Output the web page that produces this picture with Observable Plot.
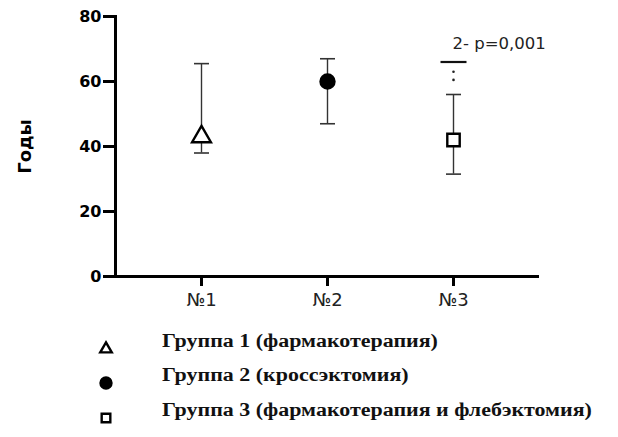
<!DOCTYPE html>
<html>
<head>
<meta charset="utf-8">
<script src="https://cdn.jsdelivr.net/npm/d3@7"></script>
<script src="https://cdn.jsdelivr.net/npm/@observablehq/plot@0.6"></script>
<style>
  html, body { margin: 0; padding: 0; background: #fff; }
  #chart svg { display: block; }
  #legend { position: relative; height: 119px; font-family: "Liberation Serif", "Times New Roman", serif; font-weight: bold; font-size: 18px; color: #111; }
  .row { position: absolute; left: 0; height: 34px; }
  .row svg { position: absolute; left: 95px; }
  .row span { position: absolute; left: 162px; top: 5px; white-space: nowrap; transform: scaleX(1.22); transform-origin: left center; }
</style>
</head>
<body>
<div id="chart"></div>
<div id="legend"></div>
<script>
// ---- data ----
const groups = ["№1", "№2", "№3"];
const means = [43, 60, 42];
const upper = [65.5, 67, 56];
const lower = [38, 47, 31.5];
const symbols = ["triangle", "circle", "square"];
const fills = ["white", "black", "white"];
const legendLabels = [
  "Группа 1 (фармакотерапия)",
  "Группа 2 (кроссэктомия)",
  "Группа 3 (фармакотерапия и флебэктомия)"
];
const yTicks = [0, 20, 40, 60, 80];
const yLabel = "Годы";
// significance annotation (group №3)
const sigGroup = "№3";
const sigLineY = 66;
const sigDotsY = [63, 60.5];
const sigText = "2- p=0,001";
const sigTextY = 71.5;

const data = groups.map((g, i) => ({group: g, mean: means[i], hi: upper[i], lo: lower[i], symbol: symbols[i], fill: fills[i]}));

// horizontal line symbol (for caps)
const hline = {
  draw(ctx, size) {
    const w = Math.sqrt(size / Math.PI);
    ctx.moveTo(-w, 0);
    ctx.lineTo(w, 0);
  }
};

const sans = "'DejaVu Sans', 'Liberation Sans', Arial, sans-serif";

const chart = Plot.plot({
  width: 618,
  height: 318,
  marginTop: 16,
  marginBottom: 42,
  marginLeft: 115,
  marginRight: 79,
  style: {fontFamily: sans, color: "black", background: "white"},
  x: {type: "point", domain: groups, padding: 0.67},
  y: {domain: [0, 80]},
  marks: [
    Plot.axisY({ticks: yTicks, tickSize: 12, tickPadding: 2, stroke: "black", strokeWidth: 3, fontSize: 16, fontWeight: "bold",
      label: yLabel, labelAnchor: "center", labelArrow: "none", labelOffset: 97}),
    Plot.axisX({tickSize: 10, tickPadding: 7, stroke: "black", strokeWidth: 3, fontSize: 18, label: null, fill: "#222"}),
    Plot.frame({anchor: "left", stroke: "black", strokeWidth: 3}),
    Plot.ruleY([0], {stroke: "black", strokeWidth: 3}),
    // error bars
    Plot.ruleX(data, {x: "group", y1: "lo", y2: "hi", stroke: "#333", strokeWidth: 1.4}),
    Plot.dot(data, {x: "group", y: "hi", symbol: hline, r: 7.5, stroke: "#333", strokeWidth: 1.6}),
    Plot.dot(data, {x: "group", y: "lo", symbol: hline, r: 7.5, stroke: "#333", strokeWidth: 1.6}),
    // means
    Plot.dot(data, {x: "group", y: "mean", symbol: "symbol", fill: "fill", stroke: "black", strokeWidth: 2.4, r: 7}),
    // significance
    Plot.dot([sigLineY], {x: () => sigGroup, y: d => d, symbol: hline, r: 13, stroke: "#111", strokeWidth: 2.2}),
    Plot.dot(sigDotsY, {x: () => sigGroup, y: d => d, r: 1.3, fill: "#222"}),
    Plot.text([sigText], {x: () => sigGroup, y: () => sigTextY, text: d => d, textAnchor: "start", dx: -1, fontSize: 16.5, fill: "#222"})
  ]
});
chart.querySelectorAll("g[aria-label='y-axis label']").forEach(el => {
  el.setAttribute("font-size", 18); el.setAttribute("font-weight", "bold");
});
document.getElementById("chart").appendChild(chart);

// ---- legend ----
const legend = d3.select("#legend");
const rowTops = [8, 42, 77];
legendLabels.forEach((label, i) => {
  const row = legend.append("div").attr("class", "row").style("top", rowTops[i] + "px").style("width", "618px");
  const s = row.append("svg").attr("width", 22).attr("height", 22).style("top", "12px");
  const sym = {triangle: d3.symbolTriangle2, circle: d3.symbolCircle, square: d3.symbolSquare2}[symbols[i]];
  s.append("path")
    .attr("transform", "translate(11,11)")
    .attr("d", d3.symbol(sym, 95)())
    .attr("fill", fills[i])
    .attr("stroke", "black")
    .attr("stroke-width", 2.4);
  row.append("span").text(label);
});
</script>
</body>
</html>
